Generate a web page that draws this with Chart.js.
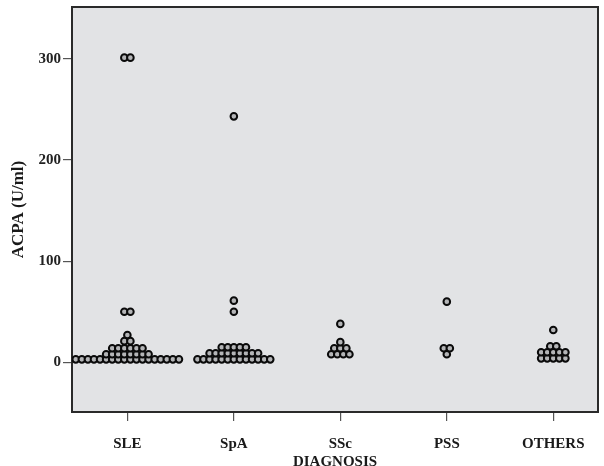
<!DOCTYPE html>
<html>
<head>
<meta charset="utf-8">
<script src="https://cdn.jsdelivr.net/npm/chart.js@4.4.0/dist/chart.umd.min.js"></script>
<style>
  html, body { margin: 0; padding: 0; background: #ffffff; }
  #wrap { width: 604px; height: 466px; position: relative; }
</style>
</head>
<body>
<div id="wrap"><canvas id="dotplot"></canvas></div>
<script>
const categories = ["SLE", "SpA", "SSc", "PSS", "OTHERS"];
const yTicks = [0, 100, 200, 300];

// ACPA values (U/ml), per diagnosis
const sleValues = [
  3, 3, 3, 3, 3, 3, 3, 3, 3, 3, 3, 3, 3, 3, 3, 3, 3, 3,
  8, 8, 8, 8, 8, 8, 8, 8,
  14, 14, 14, 14, 14, 14,
  21, 21, 27,
  50, 50,
  301, 301,
];
const spaValues = [
  3, 3, 3, 3, 3, 3, 3, 3, 3, 3, 3, 3, 3,
  9, 9, 9, 9, 9, 9, 9, 9, 9,
  15, 15, 15, 15, 15,
  50, 61, 243,
];
const sscValues = [8, 8, 8, 8, 14, 14, 14, 20, 38];
const pssValues = [8, 14, 14, 60];
const othersValues = [4, 4, 4, 4, 4, 10, 10, 10, 10, 10, 16, 16, 32];

const groups = [sleValues, spaValues, sscValues, pssValues, othersValues];

const FONT = { family: "Liberation Serif, DejaVu Serif, serif", size: 15, weight: "bold" };
const TITLE_FONT = { family: "Liberation Serif, DejaVu Serif, serif", size: 17, weight: "bold" };
const DOT_STEP = 0.057; // horizontal spacing of stacked dots, in category units

// dot-plot stacking: equal values are spread side by side round the category
function stackGroup(values, catIdx) {
  const counts = {};
  values.forEach(v => { counts[v] = (counts[v] || 0) + 1; });
  const pts = [];
  Object.keys(counts).forEach(k => {
    const n = counts[k];
    for (let i = 0; i < n; i++) {
      pts.push({ x: catIdx + 1 + (i - (n - 1) / 2) * DOT_STEP, y: Number(k) });
    }
  });
  return pts;
}

const allPoints = [];
groups.forEach((vals, i) => stackGroup(vals, i).forEach(p => allPoints.push(p)));

const plotFrame = {
  id: "plotFrame",
  beforeDatasetsDraw(chart) {
    const a = chart.chartArea;
    const ctx = chart.ctx;
    ctx.save();
    ctx.fillStyle = "#e2e3e5";
    ctx.fillRect(a.left, a.top, a.right - a.left, a.bottom - a.top);
    ctx.strokeStyle = "#2a2a2a";
    ctx.lineWidth = 2;
    ctx.strokeRect(a.left, a.top, a.right - a.left, a.bottom - a.top);
    ctx.restore();
  }
};

new Chart(document.getElementById("dotplot"), {
  type: "scatter",
  data: {
    datasets: [{
      label: "ACPA",
      data: allPoints,
      pointRadius: 3.3,
      pointBorderWidth: 2,
      borderColor: "#0a0a0a",
      backgroundColor: "#b4b5b7",
    }]
  },
  options: {
    animation: false,
    responsive: true,
    maintainAspectRatio: false,
    devicePixelRatio: 1,
    layout: { padding: { left: 8, right: 6, top: 7, bottom: 0 } },
    plugins: { legend: { display: false }, tooltip: { enabled: false } },
    scales: {
      x: {
        type: "linear",
        min: 0.48,
        max: 5.42,
        afterBuildTicks: (scale) => { scale.ticks = categories.map((c, i) => ({ value: i + 1 })); },
        afterFit: (scale) => { scale.height = 54; scale.paddingLeft = 0; scale.paddingRight = 0; },
        ticks: {
          color: "#1a1a1a",
          font: FONT,
          padding: 14,
          autoSkip: false,
          maxRotation: 0,
          callback: (v) => categories[Math.round(v) - 1] || "",
        },
        grid: { drawOnChartArea: false, drawTicks: true, tickLength: 9, color: "#555555", lineWidth: 1.2 },
        border: { display: false },
        title: { display: true, text: "DIAGNOSIS", color: "#1a1a1a", font: FONT, padding: { top: 0, bottom: -5 } },
      },
      y: {
        type: "linear",
        min: -49,
        max: 351,
        afterBuildTicks: (scale) => { scale.ticks = yTicks.map(v => ({ value: v })); },
        afterFit: (scale) => { scale.width = 64; scale.paddingTop = 0; scale.paddingBottom = 0; },
        ticks: { color: "#222222", font: FONT, padding: 2 },
        grid: { drawOnChartArea: false, drawTicks: true, tickLength: 9, color: "#555555", lineWidth: 1.2 },
        border: { display: false },
        title: { display: true, text: "ACPA (U/ml)", color: "#1a1a1a", font: TITLE_FONT, padding: { top: 0, bottom: 4 } },
      }
    }
  },
  plugins: [plotFrame]
});
</script>
</body>
</html>
